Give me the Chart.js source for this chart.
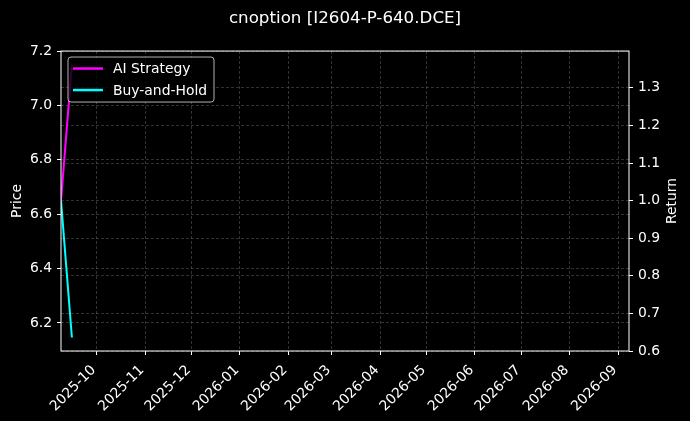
<!DOCTYPE html>
<html>
<head>
<meta charset="utf-8">
<script src="https://cdn.jsdelivr.net/npm/chart.js@4/dist/chart.umd.min.js"></script>
<style>
  html, body { margin: 0; padding: 0; background: #000; }
  canvas { display: block; }
</style>
</head>
<body>
<canvas id="chart" width="690" height="421"></canvas>
<script>
// data
const dates = ['2025-09-08', '2025-09-15'];
const aiStrategy = [1.0, 1.362];
const buyAndHold = [1.0, 0.636];

const xRange = ['2025-09-08', '2026-09-08'];
const xTickLabels = ['2025-10', '2025-11', '2025-12', '2026-01', '2026-02', '2026-03',
  '2026-04', '2026-05', '2026-06', '2026-07', '2026-08', '2026-09'];
const priceTicks = [6.2, 6.4, 6.6, 6.8, 7.0, 7.2];
const priceRange = [6.097, 7.2];
const returnTicks = [0.6, 0.7, 0.8, 0.9, 1.0, 1.1, 1.2, 1.3];
const returnRange = [0.6, 1.398];

const dayNum = s => {
  const p = s.split('-').map(Number);
  return Date.UTC(p[0], p[1] - 1, p[2] || 1) / 86400000;
};

const FONT = 'DejaVu Sans';
const gridColor = 'rgba(140,140,140,0.45)';

const background = {
  id: 'background',
  beforeDraw(chart) {
    const ctx = chart.ctx;
    ctx.save();
    ctx.fillStyle = '#000';
    ctx.fillRect(0, 0, chart.width, chart.height);
    ctx.restore();
  }
};

const frameAndLegend = {
  id: 'frameAndLegend',
  afterDatasetsDraw(chart) {
    const ctx = chart.ctx;
    const a = chart.chartArea;
    ctx.save();
    // frame
    ctx.strokeStyle = '#fff';
    ctx.lineWidth = 1;
    ctx.strokeRect(a.left, a.top, a.right - a.left, a.bottom - a.top);

    // legend box, upper left
    const bx = a.left + 7, by = a.top + 6, bw = 146, bh = 45;
    ctx.beginPath();
    ctx.roundRect(bx, by, bw, bh, 3);
    ctx.fillStyle = 'rgba(0,0,0,0.8)';
    ctx.fill();
    ctx.strokeStyle = 'rgba(220,220,220,0.8)';
    ctx.stroke();
    ctx.font = '13.9px "' + FONT + '"';
    ctx.textBaseline = 'middle';
    chart.data.datasets.forEach((ds, i) => {
      const y = by + 11.5 + i * 21.5;
      ctx.strokeStyle = ds.borderColor;
      ctx.lineWidth = 2.5;
      ctx.beginPath();
      ctx.moveTo(bx + 5, y);
      ctx.lineTo(bx + 35, y);
      ctx.stroke();
      ctx.fillStyle = '#fff';
      ctx.fillText(ds.label, bx + 45, y + 1);
    });

    // right axis title
    ctx.translate(672, (a.top + a.bottom) / 2);
    ctx.rotate(-Math.PI / 2);
    ctx.textAlign = 'center';
    ctx.fillStyle = '#fff';
    ctx.fillText('Return', 0, 0);
    ctx.restore();
  }
};

const tickFont = { family: FONT, size: 13.9 };

new Chart(document.getElementById('chart'), {
  type: 'line',
  data: {
    datasets: [
      {
        label: 'AI Strategy',
        data: dates.map((d, i) => ({ x: dayNum(d), y: aiStrategy[i] })),
        borderColor: '#ff00ff',
        borderWidth: 2,
        pointRadius: 0,
        yAxisID: 'y1'
      },
      {
        label: 'Buy-and-Hold',
        data: dates.map((d, i) => ({ x: dayNum(d), y: buyAndHold[i] })),
        borderColor: '#00ffff',
        borderWidth: 2,
        pointRadius: 0,
        yAxisID: 'y1'
      }
    ]
  },
  options: {
    responsive: false,
    animation: false,
    devicePixelRatio: 1,
    layout: { padding: 0 },
    plugins: {
      legend: { display: false },
      tooltip: { enabled: false },
      title: {
        display: true,
        text: 'cnoption [I2604-P-640.DCE]',
        color: '#fff',
        font: { family: FONT, size: 16.7, weight: 'normal' },
        padding: { top: 9, bottom: 22 }
      }
    },
    scales: {
      x: {
        type: 'linear',
        min: dayNum(xRange[0]),
        max: dayNum(xRange[1]),
        afterBuildTicks: s => { s.ticks = xTickLabels.map(l => ({ value: dayNum(l + '-01') })); },
        afterFit: s => { s.height = 70; },
        ticks: {
          color: '#fff',
          font: tickFont,
          autoSkip: false,
          minRotation: 45,
          maxRotation: 45,
          padding: 4,
          callback: (v, i) => xTickLabels[i] + ' '
        },
        grid: { color: gridColor, lineWidth: 0.8, tickColor: '#fff', tickLength: 4, tickWidth: 1, tickBorderDash: [] },
        border: { display: false, dash: [3, 2] }
      },
      y: {
        type: 'linear',
        position: 'left',
        min: priceRange[0],
        max: priceRange[1],
        afterBuildTicks: s => { s.ticks = priceTicks.map(v => ({ value: v })); },
        afterFit: s => { s.width = 61; },
        ticks: { color: '#fff', font: tickFont, padding: 5, callback: v => v.toFixed(1) },
        title: { display: true, text: 'Price', color: '#fff', font: tickFont, padding: { top: 9.5, bottom: 0 } },
        grid: { color: gridColor, lineWidth: 0.8, tickColor: '#fff', tickLength: 4, tickWidth: 1, tickBorderDash: [] },
        border: { display: false, dash: [3, 2] }
      },
      y1: {
        type: 'linear',
        position: 'right',
        min: returnRange[0],
        max: returnRange[1],
        afterBuildTicks: s => { s.ticks = returnTicks.map(v => ({ value: v })); },
        afterFit: s => { s.width = 61; },
        ticks: { color: '#fff', font: tickFont, padding: 5, callback: v => v.toFixed(1) },
        grid: { color: gridColor, lineWidth: 0.8, tickColor: '#fff', tickLength: 4, tickWidth: 1, tickBorderDash: [] },
        border: { display: false, dash: [3, 2] }
      }
    }
  },
  plugins: [background, frameAndLegend]
});
</script>
</body>
</html>
